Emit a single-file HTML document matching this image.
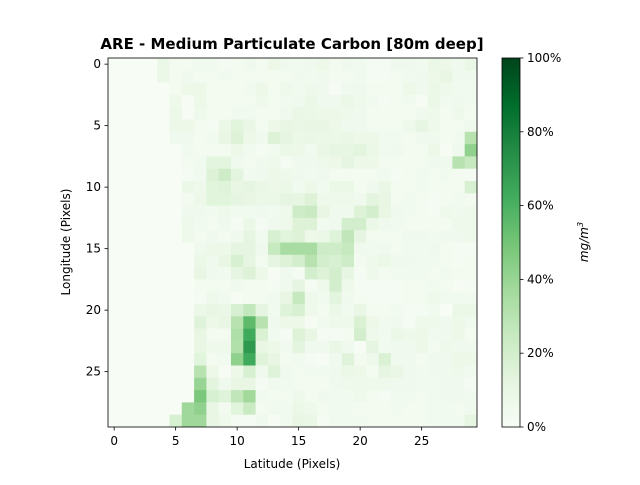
<!DOCTYPE html>
<html><head><meta charset="utf-8"><style>
body{margin:0;background:#fff;font-family:"Liberation Sans","DejaVu Sans",sans-serif}
svg text{font-family:"DejaVu Sans","Liberation Sans",sans-serif}
</style></head><body>
<svg id="chart" width="640" height="480" xmlns="http://www.w3.org/2000/svg">
<text x="292" y="49" text-anchor="middle" font-size="15" font-weight="bold">ARE - Medium Particulate Carbon [80m deep]</text>
<g id="cells"></g>
<rect x="108" y="58" width="369" height="369" fill="none" stroke="#000" stroke-width="0.8"/>
<g id="axes"></g>
<text x="292" y="468" text-anchor="middle" font-size="12">Latitude (Pixels)</text>
<text x="70" y="242" text-anchor="middle" font-size="12" transform="rotate(-90 70 242)">Longitude (Pixels)</text>
<defs><linearGradient id="cg" x1="0" y1="1" x2="0" y2="0">
<stop offset="0" stop-color="#f7fcf5"/><stop offset="0.125" stop-color="#e5f5e0"/><stop offset="0.25" stop-color="#c7e9c0"/><stop offset="0.375" stop-color="#a1d99b"/><stop offset="0.5" stop-color="#74c476"/><stop offset="0.625" stop-color="#41ab5d"/><stop offset="0.75" stop-color="#238b45"/><stop offset="0.875" stop-color="#006d2c"/><stop offset="1" stop-color="#00441b"/>
</linearGradient></defs>
<rect x="502" y="58" width="18" height="369" fill="url(#cg)" stroke="#000" stroke-width="0.8"/>
<g id="cbar"></g>
<text x="588" y="242" text-anchor="middle" font-size="12" font-style="italic" transform="rotate(-90 588 242)">mg/m<tspan dy="-5" font-size="8">3</tspan></text>
</svg>
<script>
const xTicks=[0,5,10,15,20,25];
const yTicks=[0,5,10,15,20,25];
const cbTicks=[0,20,40,60,80,100];
const row00=[0,0,0,0,8,3,3,4,4,2,3,5,3,7,5,4,5,7,3,5,4,2,2,5,5,4,8,7,5,9];
const row01=[0,0,0,0,8,3,5,3,3,4,3,3,3,3,3,5,4,5,3,3,4,2,2,3,4,5,7,10,5,5];
const row02=[0,0,0,0,0,3,7,7,3,3,3,4,7,3,6,4,6,5,1,5,5,3,3,3,7,5,8,6,4,4];
const row03=[0,0,0,0,0,6,1,7,3,3,3,3,6,3,4,5,8,5,5,8,6,4,2,3,4,1,8,4,5,4];
const row04=[0,0,0,0,0,8,1,6,3,3,4,4,3,3,5,9,8,7,7,6,5,3,3,3,3,5,6,3,6,3];
const row05=[0,0,0,0,0,7,7,3,2,8,14,9,3,7,10,9,10,10,7,5,5,3,3,3,6,11,6,3,3,5];
const row06=[0,0,0,0,0,5,5,3,4,10,16,7,5,16,12,8,9,8,8,9,7,7,4,4,3,5,5,3,4,30];
const row07=[0,0,0,0,0,0,4,3,3,3,7,4,2,4,8,7,4,9,11,11,13,8,4,5,3,3,7,1,5,42];
const row08=[0,0,0,0,0,0,3,4,13,13,5,3,5,6,2,5,5,6,7,12,7,7,3,3,3,3,5,5,30,25];
const row09=[0,0,0,0,0,0,2,4,16,22,13,4,5,7,6,5,4,5,3,3,3,3,4,2,3,4,3,4,3,2];
const row10=[0,0,0,0,0,0,8,6,14,15,10,12,9,7,8,4,7,4,8,8,3,5,9,3,3,4,3,3,3,18];
const row11=[0,0,0,0,0,0,3,7,14,14,12,10,8,8,12,11,16,6,6,6,5,13,10,3,4,3,2,3,4,3];
const row12=[0,0,0,0,0,0,5,5,4,6,4,4,5,4,6,22,24,10,5,5,16,20,10,5,4,3,2,6,5,6];
const row13=[0,0,0,0,0,0,6,4,3,5,2,8,2,5,6,16,16,4,5,20,20,8,5,4,3,3,3,3,6,6];
const row14=[0,0,0,0,0,0,6,3,5,3,5,12,4,18,14,16,7,8,15,27,12,3,3,3,5,5,4,5,5,6];
const row15=[0,0,0,0,0,0,0,5,7,7,12,12,5,25,35,35,35,22,22,25,5,4,5,3,4,4,5,3,2,2];
const row16=[0,0,0,0,0,0,0,8,5,10,18,12,3,12,16,20,30,20,18,22,3,6,8,5,5,4,4,3,2,3];
const row17=[0,0,0,0,0,0,0,10,5,4,12,16,7,1,5,2,20,16,20,11,2,6,3,4,4,4,3,4,3,3];
const row18=[0,0,0,0,0,0,0,3,3,3,5,3,3,2,5,12,2,6,20,6,2,2,2,2,3,3,4,3,1,2];
const row19=[0,0,0,0,0,0,0,2,6,4,1,3,3,4,10,25,6,4,13,5,3,2,2,2,3,3,6,4,4,4];
const row20=[0,0,0,0,0,0,0,8,10,9,18,26,12,4,15,18,6,3,8,4,9,3,3,4,2,2,4,0,8,8];
const row21=[0,0,0,0,0,0,0,15,7,10,30,55,30,5,7,7,1,4,6,6,17,7,4,5,2,6,6,5,7,5];
const row22=[0,0,0,0,0,0,0,10,3,3,33,63,17,4,2,16,10,2,2,3,20,6,4,8,6,7,4,5,7,3];
const row23=[0,0,0,0,0,0,0,10,6,6,32,70,10,7,4,13,5,5,9,5,1,12,4,5,5,7,3,6,5,5];
const row24=[0,0,0,0,0,0,0,14,3,4,42,63,15,10,3,4,2,1,5,15,3,6,17,5,5,3,5,5,7,7];
const row25=[0,0,0,0,0,0,0,30,7,1,7,18,5,15,5,3,4,4,5,8,7,3,12,9,5,4,5,5,6,4];
const row26=[0,0,0,0,0,0,0,40,13,5,10,10,2,5,4,3,3,3,5,6,6,6,6,5,5,4,4,5,5,2];
const row27=[0,0,0,0,0,0,0,48,18,15,27,37,4,3,3,6,3,5,4,4,6,3,2,4,4,3,4,5,5,4];
const row28=[0,0,0,0,0,0,38,42,10,3,14,24,3,4,4,8,6,3,4,4,3,3,3,4,3,3,4,4,3,5];
const row29=[0,0,0,0,0,18,38,38,10,6,2,2,5,1,4,10,9,2,4,4,4,3,3,3,3,3,4,4,4,12];
const grid=[row00,row01,row02,row03,row04,row05,row06,row07,row08,row09,row10,row11,row12,row13,row14,row15,row16,row17,row18,row19,row20,row21,row22,row23,row24,row25,row26,row27,row28,row29];

const NS='http://www.w3.org/2000/svg';
const X0=108,Y0=58,W=369,H=369,N=30,cw=W/N,ch=H/N;
const xs=i=>X0+i*cw, ys=j=>Y0+j*ch;
const stops=[[247,252,245],[229,245,224],[199,233,192],[161,217,155],[116,196,118],[65,171,93],[35,139,69],[0,109,44],[0,68,27]];
function color(v){let t=Math.max(0,Math.min(1,v/100))*8;let i=Math.min(7,Math.floor(t)),f=t-i;const a=stops[i],b=stops[i+1];
return 'rgb('+a.map((c,k)=>Math.round(c+(b[k]-c)*f)).join(',')+')';}
const cells=document.getElementById('cells');
grid.forEach((row,j)=>row.forEach((v,i)=>{
 const r=document.createElementNS(NS,'rect');
 
 
 r.setAttribute('x',xs(i));r.setAttribute('y',ys(j));
 r.setAttribute('width',cw+0.3);r.setAttribute('height',ch+0.3);
 r.setAttribute('fill',color(v));cells.appendChild(r);
}));
const axes=document.getElementById('axes');
function add(p,tag,attrs,txt){const e=document.createElementNS(NS,tag);for(const k in attrs)e.setAttribute(k,attrs[k]);if(txt!==undefined)e.textContent=txt;p.appendChild(e);return e;}
xTicks.forEach(t=>{const x=xs(t)+cw/2;
 add(axes,'line',{x1:x,x2:x,y1:427,y2:430.5,stroke:'#000','stroke-width':0.8,});
 add(axes,'text',{x:x,y:445,'text-anchor':'middle','font-size':12,},t);});
yTicks.forEach(t=>{const y=ys(t)+ch/2;
 add(axes,'line',{x1:104.5,x2:108,y1:y,y2:y,stroke:'#000','stroke-width':0.8,});
 add(axes,'text',{x:101,y:y+4,'text-anchor':'end','font-size':12,},t);});
const cb=document.getElementById('cbar');
cbTicks.forEach(t=>{const y=427-t/100*369;
 add(cb,'line',{x1:520,x2:523.5,y1:y,y2:y,stroke:'#000','stroke-width':0.8,});
 add(cb,'text',{x:527,y:y+4,'font-size':12,},t+'%');});
</script>
</body></html>
